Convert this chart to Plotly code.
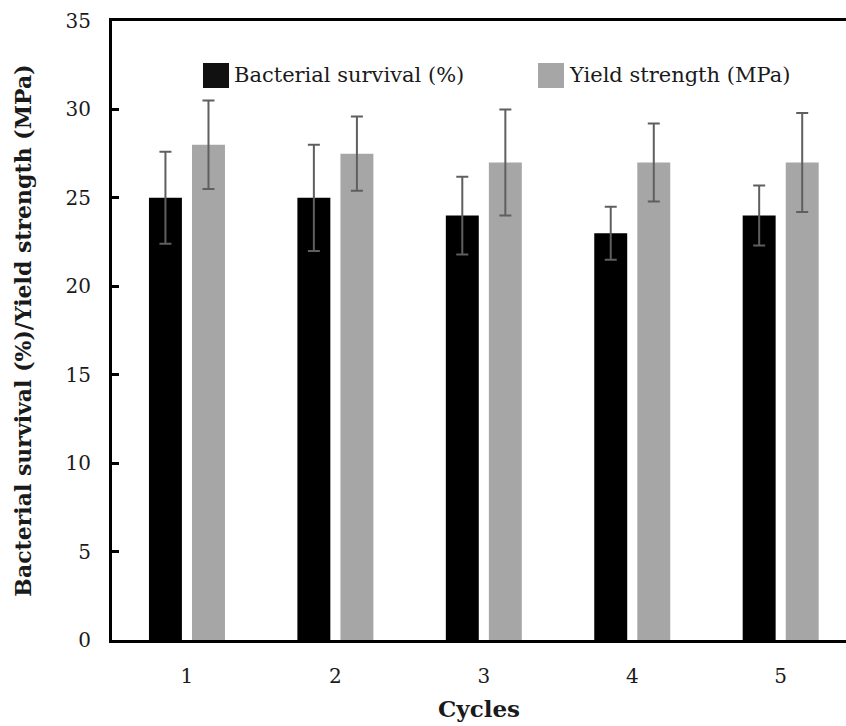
import plotly.graph_objects as go

cycles = [1, 2, 3, 4, 5]
cycle_labels = ["1", "2", "3", "4", "5"]
bacterial = [25, 25, 24, 23, 24]
bacterial_err = [2.6, 3.0, 2.2, 1.5, 1.7]
yield_strength = [28, 27.5, 27, 27, 27]
yield_err = [2.5, 2.1, 3.0, 2.2, 2.8]
series_names = ["Bacterial survival (%)", "Yield strength (MPa)"]
series_colors = ["#000000", "#a6a6a6"]

FONT = "DejaVu Serif"
TXT = "#1a1a1a"
BAR_W = 0.222

# figure geometry (pixels) used to place the hand-made legend
W, H = 846, 726
ML, MR, MT, MB = 112, 0, 21, 86
PW, PH = W - ML - MR, H - MT - MB


def px_to_paper(px, py):
    return (px - ML) / PW, (H - MB - py) / PH


fig = go.Figure()
fig.add_trace(go.Bar(
    x=cycles, y=bacterial, name=series_names[0],
    width=BAR_W, offset=-0.256,
    marker=dict(color=series_colors[0], line=dict(width=0)),
    error_y=dict(type="data", array=bacterial_err, color="#5f5f5f", thickness=2, width=6),
    showlegend=False,
))
fig.add_trace(go.Bar(
    x=cycles, y=yield_strength, name=series_names[1],
    width=BAR_W, offset=0.034,
    marker=dict(color=series_colors[1], line=dict(width=0)),
    error_y=dict(type="data", array=yield_err, color="#5f5f5f", thickness=2, width=6),
    showlegend=False,
))

# legend drawn as squares + text
legend_x = [203, 538]
for name, col, lx in zip(series_names, series_colors, legend_x):
    x0, y0 = px_to_paper(lx, 88)
    x1, y1 = px_to_paper(lx + 26, 63)
    fig.add_shape(type="rect", xref="paper", yref="paper", x0=x0, y0=y0, x1=x1, y1=y1,
                  fillcolor="#111111" if col == "#000000" else col, line=dict(width=0))
    tx, ty = px_to_paper(lx + 29, 75)
    fig.add_annotation(text=name, xref="paper", yref="paper", x=tx, y=ty,
                       xanchor="left", yanchor="middle", showarrow=False,
                       font=dict(family=FONT, size=21, color=TXT))

fig.update_layout(
    width=W, height=H,
    margin=dict(l=ML, r=MR, t=MT, b=MB),
    paper_bgcolor="white", plot_bgcolor="white",
    font=dict(family=FONT, size=20, color=TXT),
    barmode="group",
    xaxis=dict(
        range=[0.495, 5.44], tickvals=cycles, ticktext=cycle_labels,
        showline=True, linecolor="black", linewidth=3, mirror=True,
        ticks="", showgrid=False, zeroline=False,
        ticklabelstandoff=16,
        tickfont=dict(family=FONT, size=20, color=TXT),
        title=dict(text="<b>Cycles</b>", font=dict(family=FONT, size=23, color=TXT), standoff=14),
    ),
    yaxis=dict(
        range=[0, 35], tickvals=[0, 5, 10, 15, 20, 25, 30, 35],
        showline=True, linecolor="black", linewidth=3, mirror=False,
        ticks="inside", ticklen=7, tickwidth=2.5, tickcolor="black",
        showgrid=False, zeroline=False,
        ticklabelstandoff=14,
        tickfont=dict(family=FONT, size=20, color=TXT),
        title=dict(text="<b>Bacterial survival (%)/Yield strength (MPa)</b>",
                   font=dict(family=FONT, size=22, color=TXT), standoff=28),
    ),
)

fig.write_html("out.html")
